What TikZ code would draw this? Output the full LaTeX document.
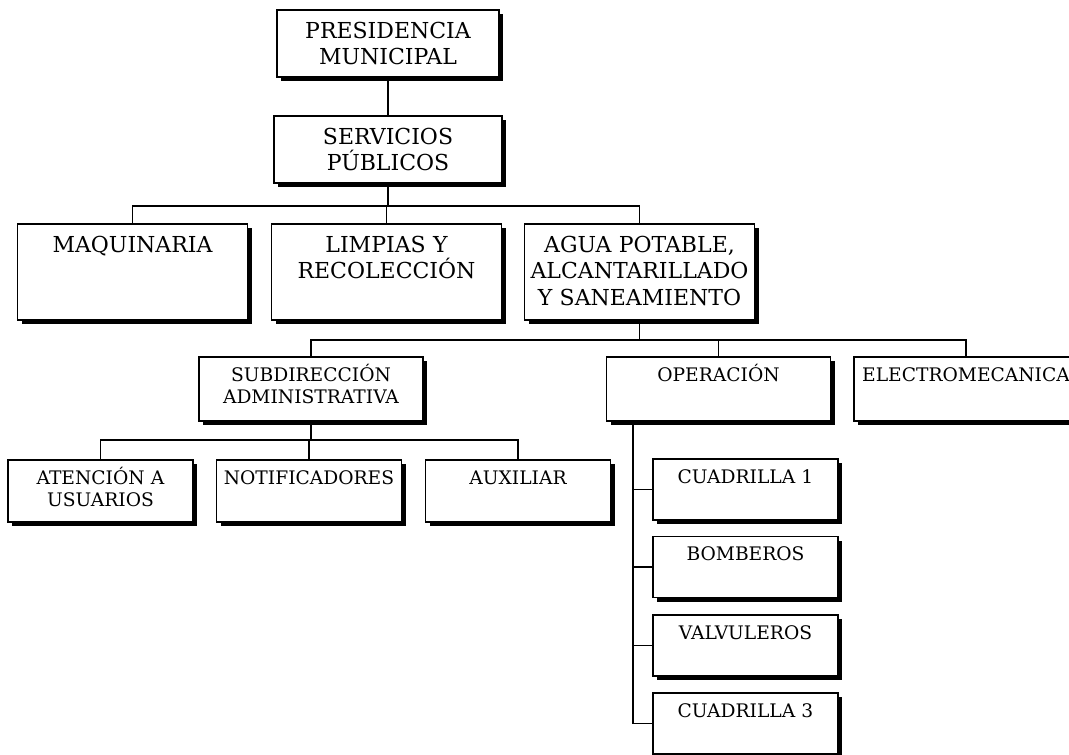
\documentclass[tikz,border=0pt]{standalone}
\usepackage{fontspec}
\setmainfont{DejaVu Serif}
\usetikzlibrary{shadows}

\begin{document}
\begin{tikzpicture}[
    x=0.75pt, y=-0.75pt,
    line width=0.9pt,
    box/.style={rectangle, draw, fill=white, inner sep=0pt,
        drop shadow={shadow xshift=3pt, shadow yshift=-3pt, fill=black, opacity=1}},
    bigtext/.style={anchor=base, inner sep=0pt, yshift=-21.5pt, text width=170pt, align=center, font=\fontsize{16.5}{20}\selectfont},
    smalltext/.style={anchor=base, inner sep=0pt, yshift=-18.5pt, text width=165pt, align=center, font=\fontsize{14}{16.5}\selectfont},
    bigbox/.style={box, minimum width=172.5pt, minimum height=72pt, label={[bigtext]north:{#1}}},
    smallbox/.style={box, minimum width=138.75pt, minimum height=46.5pt, label={[smalltext]north:{#1}}}
]
    \useasboundingbox (0,0) rectangle (1069,755);

    % Top
    \node[bigbox={PRESIDENCIA\\MUNICIPAL}, minimum width=166.5pt, minimum height=50.25pt] (pres) at (388,43.5) {};
    \node[bigbox={SERVICIOS\\PÚBLICOS}, minimum width=171pt, minimum height=50.25pt] (serv) at (388,149.5) {};

    % Areas
    \node[bigbox={MAQUINARIA}] (maq) at (132.5,272) {};
    \node[bigbox={LIMPIAS Y\\RECOLECCIÓN}] (lim) at (386.5,272) {};
    \node[bigbox={AGUA POTABLE,\\ALCANTARILLADO\\Y SANEAMIENTO}] (agua) at (639.5,272) {};

    % Water departments
    \node[smallbox={SUBDIRECCIÓN\\ADMINISTRATIVA}, minimum width=168pt, minimum height=48pt] (subdir) at (311,389) {};
    \node[smallbox={OPERACIÓN}, minimum width=168pt, minimum height=48pt] (oper) at (718.5,389) {};
    \node[smallbox={ELECTROMECANICA}, minimum width=168pt, minimum height=48pt] (electro) at (966,389) {};

    % Administration
    \node[smallbox={ATENCIÓN A\\USUARIOS}] (aten) at (100.5,491) {};
    \node[smallbox={NOTIFICADORES}] (notif) at (309,491) {};
    \node[smallbox={AUXILIAR}] (aux) at (518,491) {};

    % Operation crews
    \node[smallbox={CUADRILLA 1}, minimum height=45.75pt] (cua1) at (745.5,489.5) {};
    \node[smallbox={BOMBEROS}, minimum height=45.75pt] (bomb) at (745.5,567) {};
    \node[smallbox={VALVULEROS}, minimum height=45.75pt] (valv) at (745.5,645.5) {};
    \node[smallbox={CUADRILLA 3}, minimum height=45.75pt] (cua3) at (745.5,723.5) {};

    % Lines
    \coordinate (bus1) at (388,206);
    \coordinate (bus2) at (639.5,340);
    \coordinate (bus3) at (311,440);
    \coordinate (trunk) at ([xshift=20.25pt]oper.south west);
    \draw (pres) -- (serv);
    \draw (serv.south) -- (bus1);
    \foreach \n in {maq, lim, agua}
        \draw (bus1) -| (\n.north);
    \draw (agua.south) -- (bus2);
    \foreach \n in {subdir, oper, electro}
        \draw (bus2) -| (\n.north);
    \draw (subdir.south) -- (bus3);
    \foreach \n in {aten, notif, aux}
        \draw (bus3) -| (\n.north);
    \foreach \n in {cua1, bomb, valv, cua3}
        \draw (trunk) |- (\n.west);
\end{tikzpicture}
\end{document}
